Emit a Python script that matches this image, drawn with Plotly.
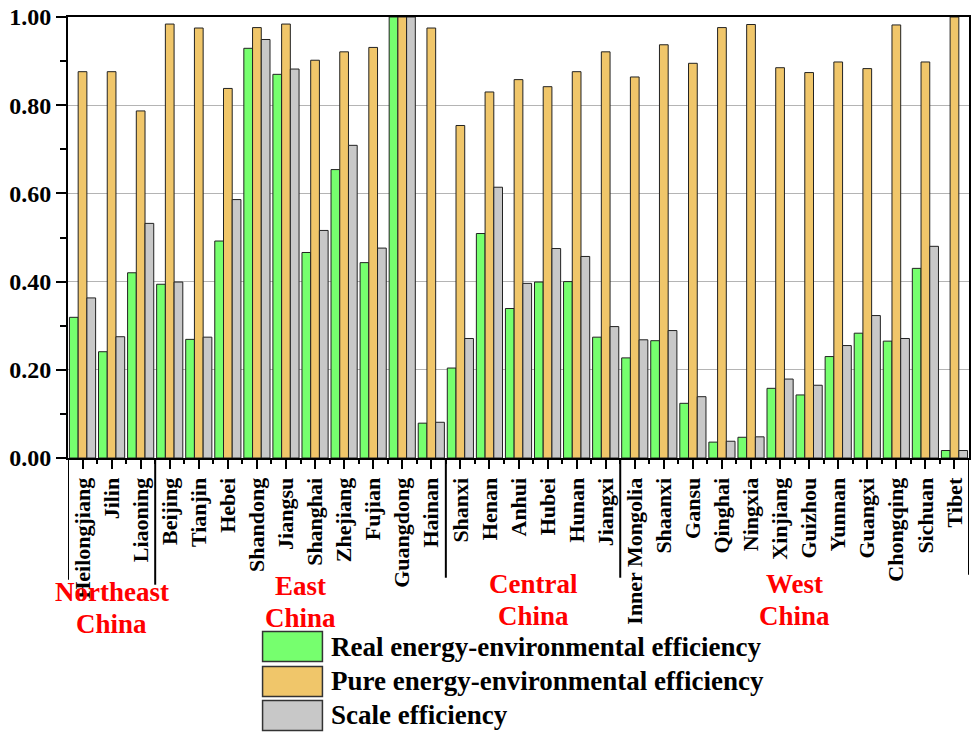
import plotly.graph_objects as go

# Provinces grouped by region (in drawing order)
provinces = [
    "Heilongjiang", "Jilin", "Liaoning",
    "Beijing", "Tianjin", "Hebei", "Shandong", "Jiangsu", "Shanghai",
    "Zhejiang", "Fujian", "Guangdong", "Hainan",
    "Shanxi", "Henan", "Anhui", "Hubei", "Hunan", "Jiangxi",
    "Inner Mongolia", "Shaanxi", "Gansu", "Qinghai", "Ningxia", "Xinjiang",
    "Guizhou", "Yunnan", "Guangxi", "Chongqing", "Sichuan", "Tibet",
]

real_eff = [
    0.319, 0.241, 0.420,
    0.394, 0.269, 0.492, 0.929, 0.870, 0.466, 0.654, 0.443, 1.000, 0.079,
    0.204, 0.509, 0.339, 0.399, 0.400, 0.274,
    0.227, 0.266, 0.124, 0.036, 0.047, 0.158, 0.143, 0.230, 0.283, 0.265, 0.430, 0.017,
]
pure_eff = [
    0.876, 0.876, 0.787,
    0.984, 0.975, 0.838, 0.976, 0.984, 0.902, 0.921, 0.931, 1.000, 0.975,
    0.754, 0.830, 0.858, 0.842, 0.876, 0.921,
    0.864, 0.937, 0.895, 0.976, 0.983, 0.885, 0.874, 0.898, 0.883, 0.982, 0.898, 1.000,
]
scale_eff = [
    0.363, 0.275, 0.532,
    0.399, 0.274, 0.586, 0.949, 0.882, 0.516, 0.709, 0.476, 1.000, 0.081,
    0.271, 0.614, 0.396, 0.475, 0.457, 0.298,
    0.268, 0.289, 0.139, 0.038, 0.048, 0.179, 0.165, 0.255, 0.323, 0.271, 0.480, 0.017,
]

region_names = [("Northeast", "China"), ("East", "China"), ("Central", "China"), ("West", "China")]
region_sizes = [3, 10, 6, 12]

series_names = [
    "Real energy-environmental efficiency",
    "Pure energy-environmental efficiency",
    "Scale efficiency",
]
series_colors = ["#76FF6E", "#F0C66A", "#C8C8C8"]

y_ticks = [0.0, 0.2, 0.4, 0.6, 0.8, 1.0]

FONT = "Liberation Serif"
W, H = 975, 732
M_L, M_R, M_T, M_B = 68, 4, 16, 274
PLOT_W = W - M_L - M_R
PLOT_H = H - M_T - M_B


def px_x(x):
    return (x - M_L) / PLOT_W


def px_y(y):
    return (H - M_B - y) / PLOT_H


xs = list(range(len(provinces)))

fig = go.Figure()
for name, vals, col in zip(series_names, [real_eff, pure_eff, scale_eff], series_colors):
    fig.add_trace(go.Bar(
        x=xs, y=vals, name=name,
        marker=dict(color=col, line=dict(color="#222222", width=1)),
        showlegend=False,
    ))

shapes = []
annotations = []

# region separators extending below the category axis
bounds = [-0.5]
for s in region_sizes:
    bounds.append(bounds[-1] + s)
sep_bottom = [580, 585, 578, 578, 575]
for b, yb in zip(bounds, sep_bottom):
    shapes.append(dict(type="line", xref="x", yref="paper", x0=b, x1=b,
                       y0=0, y1=px_y(yb), line=dict(color="black", width=2)))

# region labels
label_rows = [(592, 624), (586, 618), (584, 616), (584, 616)]
for (l1, l2), (r1, r2), lo, hi in zip(region_names, label_rows, bounds[:-1], bounds[1:]):
    cx = (lo + hi) / 2
    for txt, yy in ((l1, r1), (l2, r2)):
        annotations.append(dict(
            x=cx, y=px_y(yy), xref="x", yref="paper", text=f"<b>{txt}</b>", showarrow=False,
            xanchor="center", yanchor="middle",
            font=dict(family=FONT, size=27, color="#FF0000"),
        ))

# legend swatches and labels
leg_top = [632, 667, 701]
for name, col, top in zip(series_names, series_colors, leg_top):
    shapes.append(dict(type="rect", xref="paper", yref="paper",
                       x0=px_x(263), x1=px_x(323), y0=px_y(top), y1=px_y(top + 30),
                       fillcolor=col, line=dict(color="#333333", width=1.5)))
    annotations.append(dict(
        x=px_x(330), y=px_y(top + 15), xref="paper", yref="paper", text=f"<b>{name}</b>",
        showarrow=False, xanchor="left", yanchor="middle",
        font=dict(family=FONT, size=27, color="black"),
    ))

fig.update_layout(
    width=W, height=H,
    margin=dict(l=M_L, r=M_R, t=M_T, b=M_B),
    paper_bgcolor="white", plot_bgcolor="white",
    barmode="group", bargap=0.1, bargroupgap=0,
    shapes=shapes, annotations=annotations,
    font=dict(family=FONT, color="black"),
)

fig.update_xaxes(
    range=[-0.5, len(provinces) - 0.5],
    tickmode="array", tickvals=xs, ticktext=[f"<b>{p}</b>" for p in provinces], tickangle=-90,
    tickfont=dict(family=FONT, size=22, color="black"),
    ticks="outside", ticklen=9, tickwidth=2, tickcolor="black",
    minor=dict(ticks="outside", tickmode="array",
               tickvals=[i + 0.5 for i in xs[:-1]], ticklen=4, tickwidth=2, tickcolor="black"),
    showline=True, linewidth=2, linecolor="black", mirror=True,
    showgrid=False, zeroline=False,
)
fig.update_yaxes(
    range=[0, 1], tickmode="array", tickvals=y_ticks,
    ticktext=[f"<b>{v:.2f}</b>" for v in y_ticks],
    tickfont=dict(family=FONT, size=24, color="black"),
    ticks="outside", ticklen=10, tickwidth=2, tickcolor="black",
    minor=dict(ticks="outside", dtick=0.1, tick0=0.1, ticklen=6, tickwidth=2,
               tickcolor="black", showgrid=False),
    showline=True, linewidth=2, linecolor="black", mirror=True,
    showgrid=True, gridcolor="#B4B4B4", gridwidth=1, zeroline=False,
)

fig.write_html("out.html")
